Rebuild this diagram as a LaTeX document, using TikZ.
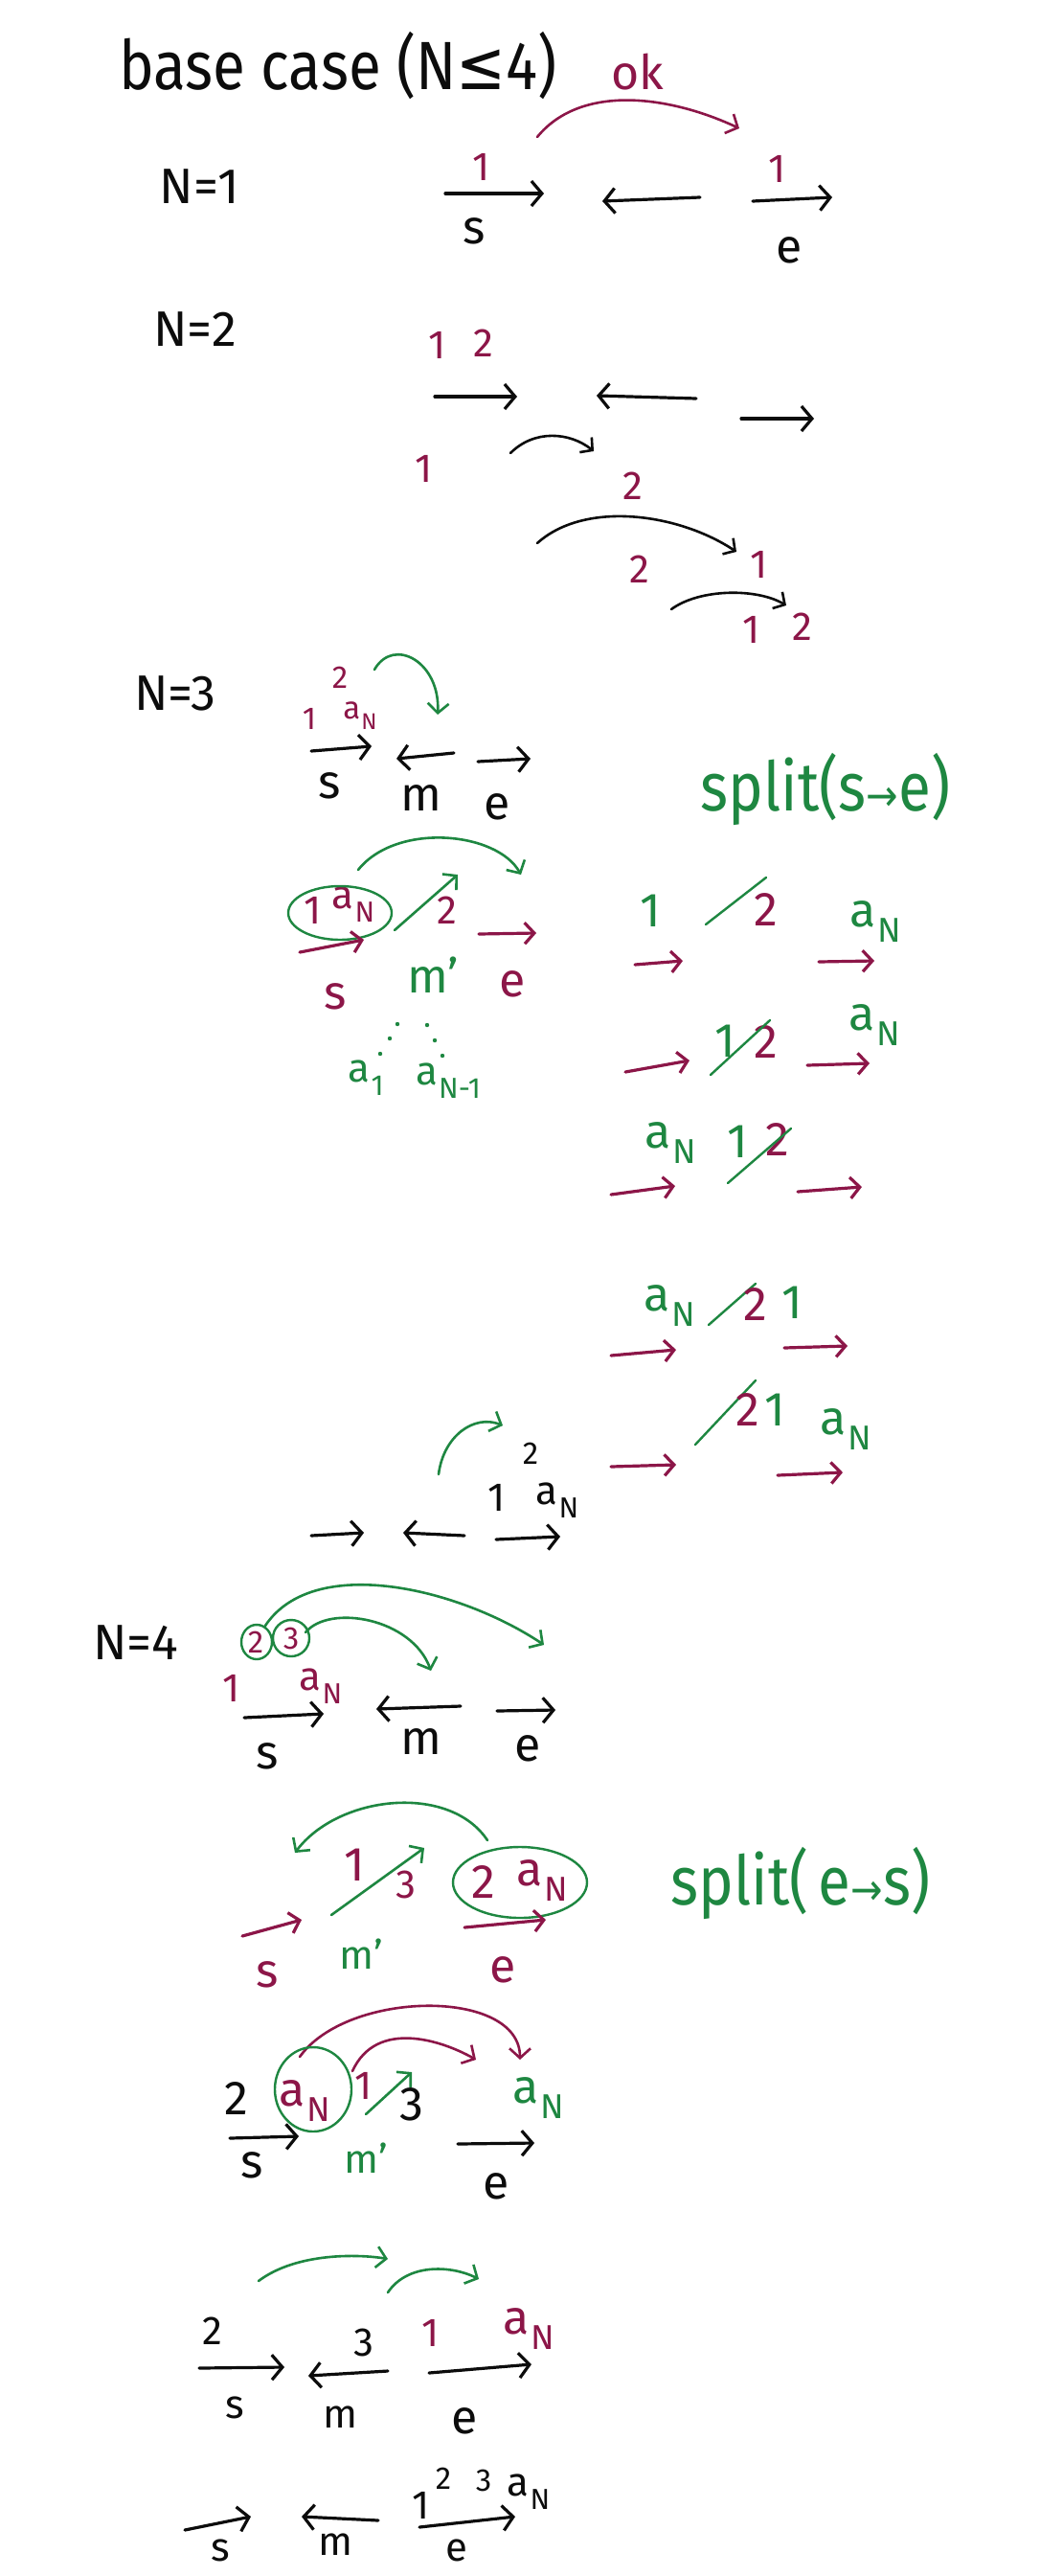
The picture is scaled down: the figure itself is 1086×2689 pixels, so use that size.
\documentclass[tikz,border=0pt]{standalone}
\usepackage{fontspec}
\setmainfont{Fira Sans}
\newfontfamily\symf{DejaVu Sans}
\usetikzlibrary{arrows.meta}
\definecolor{mag}{RGB}{140,22,72}
\definecolor{grn}{RGB}{30,135,65}
\definecolor{ink}{RGB}{12,12,12}
\newcommand\aN{a\kern0.03em\raisebox{-0.32em}{\scalebox{0.72}{N}}}
\newcommand\myarr[4]{\coordinate (#1a) at (#3); \coordinate (#1b) at (#4); \draw[#2] (#1a) -- (#1b);}
\newcommand\myarc[6]{\coordinate (#1a) at (#3); \coordinate (#1b) at (#4); \draw[#2] (#1a) .. controls +(#5) and +(#6) .. (#1b);}
\begin{document}
\begin{tikzpicture}[x=1pt,y=-1pt,
  every node/.style={inner sep=0pt, text=ink},
  ttl/.style={font=\fontsize{62}{70}\selectfont, anchor=base},
  nl/.style={font=\fontsize{52}{58}\selectfont},
  lt/.style={font=\fontsize{50}{56}\selectfont},
  dg/.style={font=\fontsize{42}{48}\selectfont},
  sm/.style={font=\fontsize{33}{38}\selectfont},
  M/.style={text=mag}, G/.style={text=grn},
  kar/.style={draw=ink, line width=3.2pt, line cap=round, -{Straight Barb[length=11pt,width=26pt,line width=3.2pt]}},
  mar/.style={draw=mag, line width=3.2pt, line cap=round, -{Straight Barb[length=10pt,width=22pt,line width=3.2pt]}},
  kac/.style={draw=ink, line width=2.6pt, line cap=round, -{Straight Barb[length=9pt,width=20pt,line width=2.6pt]}},
  mac/.style={draw=mag, line width=2.6pt, line cap=round, -{Straight Barb[length=10pt,width=22pt,line width=2.6pt]}},
  gac/.style={draw=grn, line width=2.6pt, line cap=round, -{Straight Barb[length=10pt,width=22pt,line width=2.6pt]}},
  gsl/.style={draw=grn, line width=2.4pt, line cap=round},
  gloop/.style={draw=grn, line width=2.4pt}]
\fill[white] (0,0) rectangle (1086,2689);
\useasboundingbox (0,0) rectangle (1086,2689);

% ---------- title ----------
\node[ttl] (title) at (353,94) {\scalebox{1}[1.15]{base case (N{\symf ≤}4)}};
\node[lt,M] (ok) at (666,75) {ok};

% ---------- N=1 ----------
\node[nl] (n1) at (208,195) {N=1};
\node[dg,M] (n1o) at (503,174) {1};
\node[lt] (n1s) at (495,241) {s};
\node[dg,M] (n1p) at (812,176) {1};
\node[lt] (n1e) at (824,261) {e};
\myarr{a1}{kar}{465,202}{568,202}
\myarr{a2}{kar}{731,206}{629,210}
\myarr{a3}{kar}{786,210}{869,206}
\myarc{c1}{mac}{561,143}{772,134}{45,-55}{-75,-35}

% ---------- N=2 ----------
\node[nl] (n2) at (204,344) {N=2};
\node[dg,M] (n2a) at (457,360) {1};
\node[dg,M] (n2b) at (505,358) {2};
\myarr{b1}{kar}{454,414}{540,414}
\myarr{b2}{kar}{727,416}{623,413}
\myarr{b3}{kar}{774,437}{850,437}
\node[dg,M] (n2c) at (443,489) {1};
\myarc{c2}{kac}{533,473}{620,471}{25,-25}{-25,-20}
\node[dg,M] (n2d) at (661,507) {2};
\myarc{c3}{kac}{561,567}{769,576}{50,-45}{-60,-40}
\node[dg,M] (n2e) at (668,594) {2};
\node[dg,M] (n2f) at (793,589) {1};
\myarc{c4}{kac}{701,636}{821,632}{30,-22}{-30,-18}
\node[dg,M] (n2g) at (785,657) {1};
\node[dg,M] (n2h) at (838,654) {2};

% ---------- N=3 ----------
\node[nl] (n3) at (183,724) {N=3};
\node[sm,M] (n3a) at (355,707) {2};
\node[sm,M] (n3b) at (323,750) {1};
\node[sm,M] (n3c) at (376,747) {\aN};
\myarc{c5}{gac}{391,699}{457,746}{20,-35}{3,-55}
\myarr{d1}{kar}{325,784}{388,779}
\myarr{d2}{kar}{474,786}{414,792}
\myarr{d3}{kar}{499,795}{554,792}
\node[lt] (n3s) at (344,820) {s};
\node[lt] (n3m) at (440,833) {m};
\node[lt] (n3e) at (519,842) {e};
\node[ttl,G] (split1) at (862,846) {\scalebox{1}[1.15]{split(s{\symf\fontsize{40}{44}\selectfont →}e)}};

% second N=3 step
\myarc{c6}{gac}{374,908}{544,913}{40,-50}{-25,-45}
\node[dg,M] (n3d) at (327,950) {1};
\node[dg,M] (n3f) at (369,944) {\aN};
\draw[gloop] (355,953) ellipse [x radius=54, y radius=28];
\myarr{e0}{gac}{412,971}{478,913}
\node[dg,M] (n3g) at (467,950) {2};
\myarr{e1}{mar}{313,994}{380,981}
\myarr{e2}{mar}{500,975}{560,974}
\node[lt,M] (n3h) at (350,1040) {s};
\node[lt,G] (n3i) at (452,1018) {m'};
\node[lt,M] (n3j) at (535,1027) {e};
\foreach \p in {(415,1069),(407,1084),(397,1100),(446,1070),(454,1086),(462,1102)}
  \fill[grn] \p circle (2.2);
\node[dg,G] (n3k) at (382,1125) {a\kern0.03em\raisebox{-0.32em}{\scalebox{0.72}{1}}};
\node[dg,G] (n3l) at (468,1128) {a\kern0.03em\raisebox{-0.32em}{\scalebox{0.72}{N-1}}};

% ---------- right column ----------
\node[lt,G] (r1a) at (679,951) {1};
\myarr{s1}{gsl}{737,965}{800,916}
\node[lt,M] (r1b) at (800,950) {2};
\node[lt,G] (r1c) at (914,962) {\aN};
\myarr{f1}{mar}{663,1007}{713,1003}
\myarr{f2}{mar}{855,1004}{913,1003}

\myarr{f3}{mar}{653,1119}{720,1107}
\node[lt,G] (r2a) at (757,1087) {1};
\node[lt,M] (r2b) at (800,1088) {2};
\myarr{s2}{gsl}{742,1122}{804,1065}
\node[lt,G] (r2c) at (913,1070) {\aN};
\myarr{f4}{mar}{843,1112}{908,1110}

\node[lt,G] (r3a) at (700,1193) {\aN};
\node[lt,G] (r3b) at (770,1192) {1};
\node[lt,M] (r3c) at (812,1190) {2};
\myarr{s3}{gsl}{760,1235}{826,1178}
\myarr{f5}{mar}{638,1247}{705,1238}
\myarr{f6}{mar}{833,1244}{900,1239}

\node[lt,G] (r4a) at (699,1363) {\aN};
\myarr{s4}{gsl}{740,1383}{789,1340}
\node[lt,M] (r4b) at (789,1362) {2};
\node[lt,G] (r4c) at (827,1360) {1};
\myarr{f7}{mar}{638,1415}{706,1409}
\myarr{f8}{mar}{819,1407}{885,1405}

\myarr{s5}{gsl}{726,1508}{789,1441}
\node[lt,M] (r5a) at (781,1472) {2};
\node[lt,G] (r5b) at (809,1472) {1};
\node[lt,G] (r5c) at (883,1492) {\aN};
\myarr{f9}{mar}{638,1531}{706,1529}
\myarr{f10}{mar}{812,1540}{880,1537}

% ---------- mini diagram ----------
\myarc{c7}{gac}{458,1539}{525,1488}{5,-40}{-30,-12}
\node[sm] (m1) at (554,1517) {2};
\node[dg] (m2) at (519,1563) {1};
\node[dg] (m3) at (582,1566) {\aN};
\myarr{g1}{kar}{325,1603}{380,1600}
\myarr{g2}{kar}{485,1603}{421,1600}
\myarr{g3}{kar}{518,1607}{585,1604}

% ---------- N=4 ----------
\node[nl] (n4) at (142,1715) {N=4};
\node[sm,M] (n4a) at (267,1714) {2};
\node[sm,M] (n4b) at (304,1710) {3};
\draw[gloop] (268,1714) ellipse [x radius=16, y radius=18];
\draw[gloop] (304,1710) ellipse [x radius=19, y radius=19];
\myarc{c8}{gac}{277,1697}{568,1717}{50,-75}{-90,-60}
\myarc{c9}{gac}{319,1704}{450,1744}{25,-30}{-20,-55}
\node[dg,M] (n4c) at (242,1762) {1};
\node[dg,M] (n4d) at (335,1760) {\aN};
\myarr{h1}{kar}{255,1793}{338,1789}
\myarr{h2}{kar}{481,1781}{393,1784}
\myarr{h3}{kar}{519,1786}{580,1785}
\node[lt] (n4s) at (279,1833) {s};
\node[lt] (n4m) at (440,1818) {m};
\node[lt] (n4e) at (551,1825) {e};

% split e->s
\myarc{c10}{gac}{509,1921}{308,1934}{-40,-60}{45,-60}
\node[lt,M] (p1) at (370,1947) {1};
\myarr{e3}{gac}{346,1999}{443,1929}
\node[dg,M] (p2) at (424,1967) {3};
\draw[gloop] (543,1965) ellipse [x radius=70, y radius=37];
\node[lt,M] (p3) at (505,1965) {2};
\node[lt,M] (p4) at (566,1963) {\aN};
\node[ttl,G] (split2) at (836,1988) {\scalebox{1}[1.15]{split({\,}e{\symf\fontsize{40}{44}\selectfont →}s)}};
\myarr{k1}{mar}{253,2021}{315,2004}
\myarr{k2}{mar}{485,2012}{570,2004}
\node[lt,M] (p5) at (279,2061) {s};
\node[dg,G] (p6) at (377,2040) {m'};
\node[lt,M] (p7) at (525,2056) {e};

% ---------- next step ----------
\myarc{c11}{mac}{313,2147}{543,2150}{50,-70}{0,-75}
\myarc{c12}{mac}{368,2162}{497,2150}{25,-55}{-35,-20}
\node[lt] (q1) at (247,2190) {2};
\node[lt,M] (q2) at (318,2193) {\aN};
\draw[gloop] (327,2181) ellipse [x radius=40, y radius=44];
\node[dg,M] (q3) at (380,2177) {1};
\myarr{e4}{gac}{382,2207}{430,2163}
\node[lt] (q4) at (430,2197) {3};
\node[lt,G] (q5) at (562,2190) {\aN};
\myarr{l1}{kar}{240,2232}{312,2230}
\myarr{l2}{kar}{478,2238}{558,2237}
\node[lt] (q6) at (263,2260) {s};
\node[dg,G] (q7) at (382,2253) {m'};
\node[lt] (q8) at (518,2282) {e};

% ---------- next ----------
\myarc{c13}{gac}{270,2381}{405,2358}{40,-30}{-30,-5}
\myarc{c14}{gac}{405,2393}{500,2379}{20,-30}{-30,-15}
\node[dg] (u1) at (222,2433) {2};
\node[dg] (u2) at (380,2445) {3};
\node[dg,M] (u3) at (450,2435) {1};
\node[lt,M] (u4) at (552,2431) {\aN};
\myarr{v1}{kar}{208,2472}{297,2471}
\myarr{v2}{kar}{405,2475}{322,2480}
\myarr{v3}{kar}{448,2477}{555,2468}
\node[dg] (u5) at (245,2513) {s};
\node[dg] (u6) at (355,2523) {m};
\node[lt] (u7) at (485,2527) {e};

% ---------- final ----------
\node[dg] (w1) at (440,2615) {1};
\node[sm] (w2) at (463,2587) {2};
\node[sm] (w3) at (505,2589) {3};
\node[dg] (w4) at (552,2601) {\aN};
\myarr{x1}{kar}{193,2641}{262,2627}
\myarr{x2}{kar}{395,2631}{315,2627}
\myarr{x3}{kar}{438,2638}{538,2627}
\node[dg] (w5) at (230,2662) {s};
\node[dg] (w6) at (350,2656) {m};
\node[dg] (w7) at (477,2662) {e};
\end{tikzpicture}
\end{document}
